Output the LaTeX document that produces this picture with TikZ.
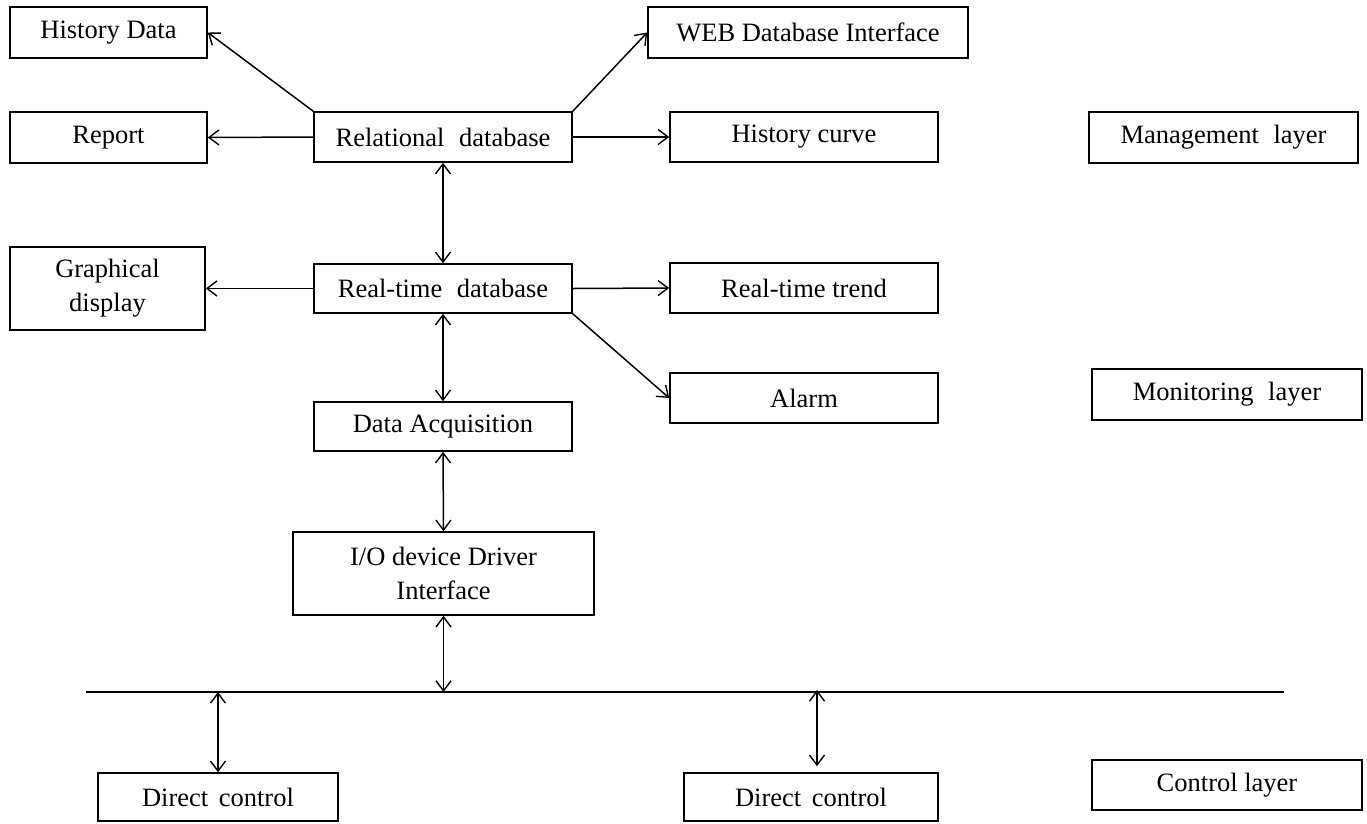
\documentclass[tikz,border=0pt]{standalone}
\usepackage{fontspec}
\setmainfont{Liberation Serif}
\usetikzlibrary{arrows.meta,calc}
\begin{document}
\begin{tikzpicture}[x=1pt,y=-1pt,
  box/.style={draw, line width=1.6pt, inner sep=0pt, font=\fontsize{26.5}{34}\selectfont, align=center},
  tipa/.tip={Straight Barb[length=10pt,width=15pt,line width=1.4pt]},
  arr/.style={-tipa, line width=1.5pt},
  darr/.style={tipa-tipa, line width=1.5pt},
  busline/.style={line width=1.6pt}]
\useasboundingbox (0,0) rectangle (1367,823);
% boxes
\node[box, minimum width=197pt, minimum height=51pt] (hist) at (108.5,32.5) {History Data};
\node[box, minimum width=320pt, minimum height=51pt] (web) at (808,32.5) {WEB Database Interface};
\node[box, minimum width=197pt, minimum height=51pt] (report) at (108.5,137.5) {Report};
\node[box, minimum width=258pt, minimum height=50pt] (rel) at (443,137) {Relational\hspace{0.3em} database};
\node[box, minimum width=268pt, minimum height=50pt] (hcurve) at (804,137) {History curve};
\node[box, minimum width=269pt, minimum height=51pt] (mgmt) at (1223.5,137.5) {Management\hspace{0.3em} layer};
\node[box, minimum width=195pt, minimum height=83pt] (graph) at (107.5,288.5) {Graphical\\display};
\node[box, minimum width=258pt, minimum height=49pt] (rt) at (443,288.5) {Real-time\hspace{0.3em} database};
\node[box, minimum width=268pt, minimum height=50pt] (trend) at (804,288) {Real-time trend};
\node[box, minimum width=268pt, minimum height=50pt] (alarm) at (804,398) {Alarm};
\node[box, minimum width=270pt, minimum height=51pt] (mon) at (1227,394.5) {Monitoring\hspace{0.3em} layer};
\node[box, minimum width=258pt, minimum height=49pt] (daq) at (443,426.5) {Data Acquisition};
\node[box, minimum width=301pt, minimum height=83pt] (io) at (443.5,573.5) {I/O device Driver\\Interface};
\node[box, minimum width=240pt, minimum height=48pt] (dc1) at (218,797) {Direct\hspace{0.15em} control};
\node[box, minimum width=254pt, minimum height=48pt] (dc2) at (811,797) {Direct\hspace{0.15em} control};
\node[box, minimum width=270pt, minimum height=50pt] (ctrl) at (1227,785) {Control layer};
% bus
\coordinate (busL) at (86,692);
\coordinate (busR) at (1284,692);
\coordinate (bus2) at (817,690);
\draw[busline] (busL) -- (busR);
% connectors
\draw[arr] (rel.north west) -- (hist.east);
\draw[arr] (rel.north east) -- (web.west);
\draw[arr] (rel.west) -- (report.east);
\draw[arr] (rel.east) -- (hcurve.west);
\draw[darr] (rel.south) -- (rt.north);
\draw[arr] (rt.west) -- (graph.east);
\draw[arr] (rt.east) -- (trend.west);
\draw[arr] (rt.south east) -- (alarm.west);
\draw[darr] (rt.south) -- (daq.north);
\draw[darr] (daq.south) -- (io.north);
\draw[darr] (io.south) -- (io.south |- busL);
\draw[darr] (busL -| dc1.north) -- (dc1.north);
\draw[darr] (bus2) -- ([xshift=6pt,yshift=6pt]dc2.north);
\end{tikzpicture}
\end{document}
